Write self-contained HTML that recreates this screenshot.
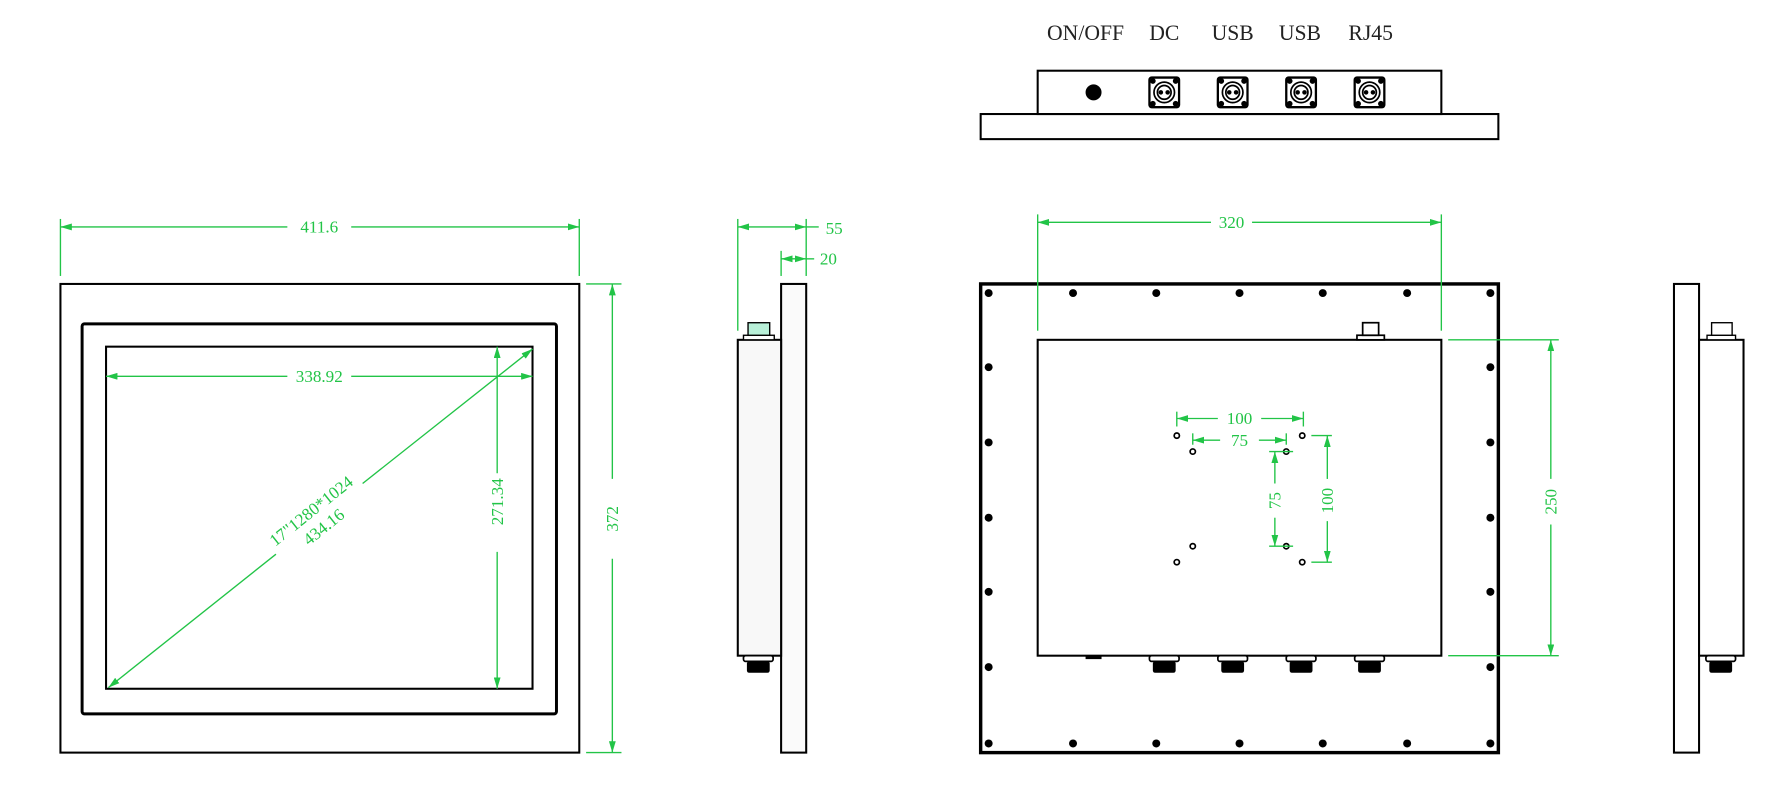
<!DOCTYPE html>
<html><head><meta charset="utf-8"><style>html,body{margin:0;padding:0;background:#fff}svg{display:block}</style></head>
<body>
<svg width="1788" height="811" viewBox="0 0 1568 711.2" xmlns="http://www.w3.org/2000/svg" font-family="'Liberation Serif', serif">
<defs>
<marker id="a" viewBox="0 0 10 6" refX="10" refY="3" markerWidth="10" markerHeight="6" orient="auto-start-reverse" markerUnits="userSpaceOnUse"><path d="M0,0 L10,3 L0,6 z" fill="#22c447"/></marker>
<g id="sq"><rect x="-13" y="-13" width="26" height="26" rx="2" fill="#fff" stroke="#000" stroke-width="2"/><circle r="9" fill="none" stroke="#000" stroke-width="1.5"/><circle r="6" fill="none" stroke="#000" stroke-width="1.5"/><circle cx="-3" r="2" fill="#000"/><circle cx="3" r="2" fill="#000"/><circle cx="-10" cy="-10" r="2.5"/><circle cx="10" cy="-10" r="2.5"/><circle cx="-10" cy="10" r="2.5"/><circle cx="10" cy="10" r="2.5"/></g>
<g id="bc"><rect x="-13" y="0" width="26" height="5" rx="2" fill="#fff" stroke="#000" stroke-width="1.5"/><rect x="-10" y="5" width="20" height="10" rx="2" fill="#000"/></g>
<circle id="s" r="3.5" fill="#000"/>
<circle id="h" r="2.3" fill="#fff" stroke="#000" stroke-width="1.5"/>
</defs>
<g fill="#222" font-size="19" text-anchor="middle">
<text x="952" y="35">ON/OFF</text><text x="1021" y="35">DC</text><text x="1081" y="35">USB</text><text x="1140" y="35">USB</text><text x="1202" y="35">RJ45</text>
</g>
<g fill="none" stroke="#000" stroke-width="1.8">
<rect x="910" y="62" width="354" height="38"/>
<rect x="860" y="100" width="454" height="22"/>
</g>
<circle cx="959" cy="81" r="7" fill="#000"/>
<use href="#sq" x="1021" y="81"/><use href="#sq" x="1081" y="81"/><use href="#sq" x="1141" y="81"/><use href="#sq" x="1201" y="81"/>

<g fill="none" stroke="#000">
<rect x="53" y="249" width="455" height="411" stroke-width="1.8"/>
<rect x="72" y="284" width="416" height="342" rx="2" stroke-width="2.6"/>
<rect x="93" y="304" width="374" height="300" stroke-width="1.8"/>
</g>
<g stroke="#22c447" stroke-width="1.2" fill="none">
<line x1="53" y1="192" x2="53" y2="242"/><line x1="508" y1="192" x2="508" y2="242"/>
<line x1="53" y1="199" x2="252" y2="199" marker-start="url(#a)"/><line x1="308" y1="199" x2="508" y2="199" marker-end="url(#a)"/>
<line x1="93" y1="330" x2="252" y2="330" marker-start="url(#a)"/><line x1="308" y1="330" x2="467" y2="330" marker-end="url(#a)"/>
<line x1="436" y1="304" x2="436" y2="415" marker-start="url(#a)"/><line x1="436" y1="484" x2="436" y2="604" marker-end="url(#a)"/>
<line x1="514" y1="249" x2="545" y2="249"/><line x1="514" y1="660" x2="545" y2="660"/>
<line x1="537" y1="249" x2="537" y2="420" marker-start="url(#a)"/><line x1="537" y1="490" x2="537" y2="660" marker-end="url(#a)"/>
<line x1="95" y1="603" x2="242" y2="486" marker-start="url(#a)"/><line x1="318" y1="424" x2="467" y2="306" marker-end="url(#a)"/>
</g>
<g fill="#22c447" font-size="15" text-anchor="middle">
<text x="280" y="204">411.6</text>
<text x="280" y="335">338.92</text>
<text transform="translate(441,440) rotate(-90)">271.34</text>
<text transform="translate(542,455) rotate(-90)">372</text>
<text transform="translate(276,452) rotate(-38.6)">17"1280*1024</text>
<text transform="translate(287,466) rotate(-38.6)">434.16</text>
</g>

<g stroke="#000" stroke-width="1.8">
<rect x="685" y="249" width="22" height="411" fill="#fafafa"/>
<rect x="647" y="298" width="38" height="277" fill="#f8f8f8"/>
<rect x="652" y="294" width="27" height="4" fill="#fff" stroke-width="1.2"/>
<rect x="656" y="283" width="19" height="11" fill="#b8f0d8" stroke-width="1.2"/>
</g>
<use href="#bc" x="665" y="575"/>
<g stroke="#22c447" stroke-width="1.2" fill="none">
<line x1="647" y1="192" x2="647" y2="290"/><line x1="707" y1="192" x2="707" y2="242"/><line x1="685" y1="220" x2="685" y2="242"/>
<line x1="647" y1="199" x2="707" y2="199" marker-start="url(#a)" marker-end="url(#a)"/><line x1="707" y1="199" x2="718" y2="199"/>
<line x1="685" y1="227" x2="707" y2="227" marker-start="url(#a)" marker-end="url(#a)"/><line x1="707" y1="227" x2="714" y2="227"/>
</g>
<g fill="#22c447" font-size="15"><text x="724" y="205">55</text><text x="719" y="232">20</text></g>

<rect x="860" y="249" width="454" height="411" fill="none" stroke="#000" stroke-width="3"/>
<rect x="910" y="298" width="354" height="277" fill="#fff" stroke="#000" stroke-width="1.8"/>
<g>
<use href="#s" x="867" y="257"/><use href="#s" x="941" y="257"/><use href="#s" x="1014" y="257"/><use href="#s" x="1087" y="257"/><use href="#s" x="1160" y="257"/><use href="#s" x="1234" y="257"/><use href="#s" x="1307" y="257"/>
<use href="#s" x="867" y="652"/><use href="#s" x="941" y="652"/><use href="#s" x="1014" y="652"/><use href="#s" x="1087" y="652"/><use href="#s" x="1160" y="652"/><use href="#s" x="1234" y="652"/><use href="#s" x="1307" y="652"/>
<use href="#s" x="867" y="322"/><use href="#s" x="867" y="388"/><use href="#s" x="867" y="454"/><use href="#s" x="867" y="519"/><use href="#s" x="867" y="585"/>
<use href="#s" x="1307" y="322"/><use href="#s" x="1307" y="388"/><use href="#s" x="1307" y="454"/><use href="#s" x="1307" y="519"/><use href="#s" x="1307" y="585"/>
</g>
<g stroke="#000" stroke-width="1.5" fill="#fff">
<rect x="1190" y="294" width="24" height="4"/><rect x="1195" y="283" width="14" height="11"/>
</g>
<rect x="952" y="575" width="14" height="3" fill="#000"/>
<use href="#bc" x="1021" y="575"/><use href="#bc" x="1081" y="575"/><use href="#bc" x="1141" y="575"/><use href="#bc" x="1201" y="575"/>
<use href="#h" x="1032" y="382"/><use href="#h" x="1142" y="382"/><use href="#h" x="1046" y="396"/><use href="#h" x="1128" y="396"/>
<use href="#h" x="1046" y="479"/><use href="#h" x="1128" y="479"/><use href="#h" x="1032" y="493"/><use href="#h" x="1142" y="493"/>
<g stroke="#22c447" stroke-width="1.2" fill="none">
<line x1="910" y1="188" x2="910" y2="290"/><line x1="1264" y1="188" x2="1264" y2="290"/>
<line x1="910" y1="195" x2="1062" y2="195" marker-start="url(#a)"/><line x1="1098" y1="195" x2="1264" y2="195" marker-end="url(#a)"/>
<line x1="1270" y1="298" x2="1367" y2="298"/><line x1="1270" y1="575" x2="1367" y2="575"/>
<line x1="1360" y1="298" x2="1360" y2="420" marker-start="url(#a)"/><line x1="1360" y1="460" x2="1360" y2="575" marker-end="url(#a)"/>
<line x1="1032" y1="361" x2="1032" y2="374"/><line x1="1143" y1="361" x2="1143" y2="374"/>
<line x1="1032" y1="367" x2="1068" y2="367" marker-start="url(#a)"/><line x1="1106" y1="367" x2="1143" y2="367" marker-end="url(#a)"/>
<line x1="1046" y1="380" x2="1046" y2="390"/><line x1="1128" y1="380" x2="1128" y2="390"/>
<line x1="1046" y1="386" x2="1070" y2="386" marker-start="url(#a)"/><line x1="1104" y1="386" x2="1128" y2="386" marker-end="url(#a)"/>
<line x1="1113" y1="396" x2="1134" y2="396"/><line x1="1113" y1="479" x2="1134" y2="479"/>
<line x1="1118" y1="396" x2="1118" y2="424" marker-start="url(#a)"/><line x1="1118" y1="454" x2="1118" y2="479" marker-end="url(#a)"/>
<line x1="1150" y1="382" x2="1168" y2="382"/><line x1="1150" y1="493" x2="1168" y2="493"/>
<line x1="1164" y1="382" x2="1164" y2="420" marker-start="url(#a)"/><line x1="1164" y1="457" x2="1164" y2="493" marker-end="url(#a)"/>
</g>
<g fill="#22c447" font-size="15" text-anchor="middle">
<text x="1080" y="200">320</text>
<text transform="translate(1365,440) rotate(-90)">250</text>
<text x="1087" y="372">100</text>
<text x="1087" y="391">75</text>
<text transform="translate(1123,439) rotate(-90)">75</text>
<text transform="translate(1169,439) rotate(-90)">100</text>
</g>

<g stroke="#000" stroke-width="1.8">
<rect x="1468" y="249" width="22" height="411" fill="#fff"/>
<rect x="1490" y="298" width="39" height="277" fill="#fff"/>
<rect x="1497" y="294" width="25" height="4" fill="#fff" stroke-width="1.2"/>
<rect x="1501" y="283" width="18" height="11" fill="#fff" stroke-width="1.2"/>
</g>
<use href="#bc" x="1509" y="575"/>
</svg>
</body></html>
